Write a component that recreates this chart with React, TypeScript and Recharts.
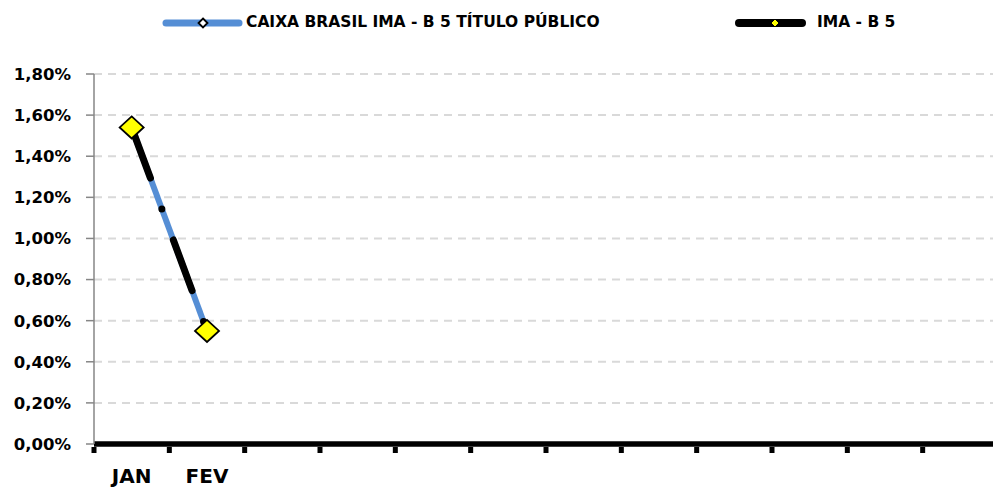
import { LineChart, Line, XAxis, YAxis, CartesianGrid } from 'recharts';

// categories: only the first two months carry labels in the source chart
const categories = ['JAN', 'FEV', '', '', '', '', '', '', '', '', '', ''];
const caixaValues: (number | null)[] = [0.0154, 0.0055];
const imaValues: (number | null)[] = [0.0154, 0.0055];
const yTicks = [0, 0.002, 0.004, 0.006, 0.008, 0.01, 0.012, 0.014, 0.016, 0.018];

const SERIES_CAIXA = 'CAIXA BRASIL IMA - B 5 TÍTULO PÚBLICO';
const SERIES_IMA = 'IMA - B 5';

const data = categories.map((name, i) => ({
  name,
  caixa: caixaValues[i] ?? null,
  ima: imaValues[i] ?? null,
}));

const FONT = '"DejaVu Sans", sans-serif';
const CHART_W = 1010;
const CHART_H = 488;
const BAND = (998 - 94) / categories.length;

const formatPct = (v: number) => `${(v * 100).toFixed(2).replace('.', ',')}%`;

const Diamond = ({ cx, cy, w, h, fill, sw }: any) => {
  if (cx == null || cy == null) return null;
  return (
    <path
      d={`M${cx},${cy - h / 2} L${cx + w / 2},${cy} L${cx},${cy + h / 2} L${cx - w / 2},${cy} Z`}
      fill={fill}
      stroke="#000"
      strokeWidth={sw}
    />
  );
};

// category boundary tick + label under the band centre
const XTick = ({ x, y, payload }: any) => (
  <g>
    <rect x={x - BAND / 2 - 2.5} y={y - 5} width={5} height={6} fill="#000" />
    <text
      x={x}
      y={y + 31}
      textAnchor="middle"
      fontFamily={FONT}
      fontWeight="bold"
      fontSize={20}
      fill="#000"
    >
      {payload.value}
    </text>
  </g>
);

const LegendBar = () => (
  <div style={{ position: 'absolute', left: 0, top: 0, width: 993, height: 44, fontFamily: FONT, fontWeight: 'bold', fontSize: 15.5 }}>
    <svg style={{ position: 'absolute', left: 162, top: 15 }} width={82} height={16}>
      <line x1={4} y1={8} x2={77} y2={8} stroke="#558ED5" strokeWidth={7} strokeLinecap="round" />
      <Diamond cx={41} cy={8} w={9} h={9} fill="#fff" sw={1.8} />
    </svg>
    <span style={{ position: 'absolute', left: 246, top: 13, whiteSpace: 'nowrap' }}>{SERIES_CAIXA}</span>
    <svg style={{ position: 'absolute', left: 735, top: 15 }} width={72} height={16}>
      <line x1={4} y1={8} x2={67} y2={8} stroke="#000" strokeWidth={8} strokeLinecap="round" />
      <Diamond cx={40} cy={8} w={8} h={8} fill="#FFFF00" sw={1} />
    </svg>
    <span style={{ position: 'absolute', left: 817, top: 13, whiteSpace: 'nowrap' }}>{SERIES_IMA}</span>
  </div>
);

export default function App() {
  return (
    <div style={{ position: 'absolute', left: 0, top: 0, width: 993, height: 488, overflow: 'hidden', background: '#fff' }}>
      <LegendBar />
      <LineChart width={CHART_W} height={CHART_H} data={data} margin={{ top: 74, right: 12, left: 0, bottom: 0 }}>
        <CartesianGrid vertical={false} stroke="#D9D9D9" strokeWidth={2} strokeDasharray="8 6" />
        <XAxis
          dataKey="name"
          padding={{ left: BAND / 2, right: BAND / 2 }}
          axisLine={{ stroke: '#000', strokeWidth: 5.5 }}
          tickLine={false}
          tick={<XTick />}
          interval={0}
          height={44}
          tickSize={8}
          tickMargin={0}
        />
        <YAxis
          width={94}
          domain={[0, 0.018]}
          ticks={yTicks}
          tickFormatter={formatPct}
          axisLine={{ stroke: '#868686', strokeWidth: 1.5 }}
          tickLine={{ stroke: '#868686', strokeWidth: 1.5 }}
          tickSize={8}
          tickMargin={15}
          tick={{ fontFamily: FONT, fontWeight: 'bold', fontSize: 16.5, fill: '#000' }}
        />
        <Line
          dataKey="caixa"
          name={SERIES_CAIXA}
          stroke="#558ED5"
          strokeWidth={6}
          dot={(p: any) => <Diamond key={`c${p.index}`} cx={p.cx} cy={p.cy} w={9} h={9} fill="#fff" sw={1.5} />}
          isAnimationActive={false}
        />
        <Line
          dataKey="ima"
          name={SERIES_IMA}
          stroke="#000"
          strokeWidth={7}
          strokeDasharray="54 33 0 33"
          strokeLinecap="round"
          dot={(p: any) => <Diamond key={`i${p.index}`} cx={p.cx} cy={p.cy} w={24} h={22} fill="#FFFF00" sw={1.8} />}
          isAnimationActive={false}
        />
      </LineChart>
    </div>
  );
}
